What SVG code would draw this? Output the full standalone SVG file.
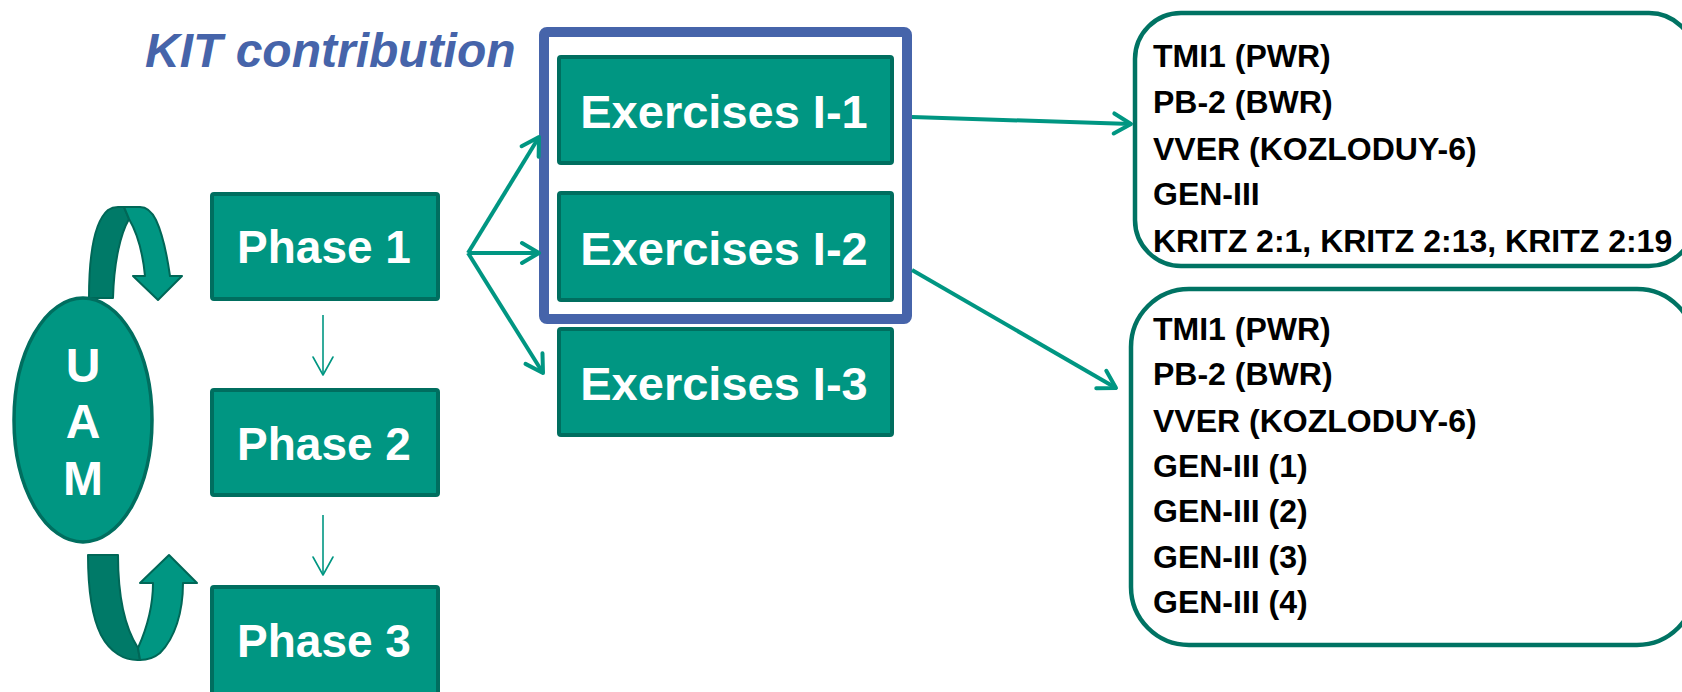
<svg xmlns="http://www.w3.org/2000/svg" width="1682" height="692" viewBox="0 0 1682 692">
<style>
.box{fill:#009682;stroke:#006E5F;stroke-width:4;}
.wt{font-family:"Liberation Sans",Arial,sans-serif;font-weight:bold;fill:#ffffff;text-anchor:middle;}
.lst{font-family:"Liberation Sans",Arial,sans-serif;font-weight:bold;font-size:32px;fill:#000000;}
.rbox{fill:#ffffff;stroke:#007363;stroke-width:4.5;}
.conn{fill:none;stroke:#009682;stroke-width:4;}
.thin{fill:none;stroke:#009682;stroke-width:1.6;}
.dark{fill:#007A68;stroke:#006757;stroke-width:2;stroke-linejoin:round;}
.light{fill:#009682;stroke:#006757;stroke-width:2;stroke-linejoin:round;}
</style>
<defs>
<marker id="ah" markerUnits="userSpaceOnUse" markerWidth="40" markerHeight="40" viewBox="-25 -20 40 40" refX="0" refY="0" orient="auto">
<path d="M-17,-10 L0,0 L-17,10" fill="none" stroke="#009682" stroke-width="4" stroke-linecap="round" stroke-linejoin="round"/>
</marker>
<marker id="ahs" markerUnits="userSpaceOnUse" markerWidth="30" markerHeight="30" viewBox="-20 -15 30 30" refX="0" refY="0" orient="auto">
<path d="M-18,-10 L0,0 L-18,10" fill="none" stroke="#009682" stroke-width="1.6" stroke-linecap="round" stroke-linejoin="round"/>
</marker>
</defs>

<g id="kit-label">
<text x="145" y="67" font-family="'Liberation Sans',Arial,sans-serif" font-weight="bold" font-style="italic" font-size="48" fill="#4664AA">KIT contribution</text>
</g>

<g id="kit-frame">
<rect x="544" y="32" width="363" height="287" rx="3" fill="none" stroke="#4664AA" stroke-width="10"/>
</g>

<g id="loop-top">
<path class="dark" d="M89,298 C89,255 94,222 108,210 C111,208 114,207 118,207 L124,207 L129,219 C121,233 114,260 113,298 Z"/>
<path class="light" d="M124,207 L140,207 C146,207 152,212 156,220 C163,235 167,255 170,276 L182,276 L158,300 L133,276 L145,276 C143,255 139,236 129,219 Z"/>
</g>
<g id="loop-bottom">
<path class="dark" d="M88,555 L118,555 C118,598 125,628 138,648 L140,660 C124,661 110,652 101,635 C92,617 88,590 88,555 Z"/>
<path class="light" d="M138,648 C147,628 153,605 153,583 L140,583 L169,555 L197,583 L183,583 C183,612 175,638 160,653 C154,658 147,660 140,660 Z"/>
</g>

<g id="uam">
<ellipse cx="83" cy="420" rx="69" ry="122" fill="#009682" stroke="#006E5F" stroke-width="3.5"/>
<text class="wt" x="83" y="382" font-size="48">U</text>
<text class="wt" x="83" y="438" font-size="48">A</text>
<text class="wt" x="83" y="495" font-size="48">M</text>
</g>

<g id="phase1">
<rect class="box" x="212" y="194" width="226" height="105" rx="2"/>
<text class="wt" x="324" y="263" font-size="46">Phase 1</text>
</g>
<g id="phase2">
<rect class="box" x="212" y="390" width="226" height="105" rx="2"/>
<text class="wt" x="324" y="460" font-size="46">Phase 2</text>
</g>
<g id="phase3">
<rect class="box" x="212" y="587" width="226" height="112" rx="2"/>
<text class="wt" x="324" y="657" font-size="46">Phase 3</text>
</g>

<g id="ex1">
<rect class="box" x="559" y="57" width="333" height="106" rx="2"/>
<text class="wt" x="724" y="128" font-size="47">Exercises I-1</text>
</g>
<g id="ex2">
<rect class="box" x="559" y="193" width="333" height="107" rx="2"/>
<text class="wt" x="724" y="265" font-size="47">Exercises I-2</text>
</g>
<g id="ex3">
<rect class="box" x="559" y="329" width="333" height="106" rx="2"/>
<text class="wt" x="724" y="400" font-size="47">Exercises I-3</text>
</g>

<g id="list1">
<rect class="rbox" x="1135" y="13" width="560" height="253" rx="46"/>
<text class="lst" x="1153" y="67">TMI1 (PWR)</text>
<text class="lst" x="1153" y="113">PB-2 (BWR)</text>
<text class="lst" x="1153" y="160">VVER (KOZLODUY-6)</text>
<text class="lst" x="1153" y="205">GEN-III</text>
<text class="lst" x="1153" y="252">KRITZ 2:1, KRITZ 2:13, KRITZ 2:19</text>
</g>
<g id="list2">
<rect class="rbox" x="1131" y="289" width="564" height="356" rx="58"/>
<text class="lst" x="1153" y="340">TMI1 (PWR)</text>
<text class="lst" x="1153" y="385">PB-2 (BWR)</text>
<text class="lst" x="1153" y="432">VVER (KOZLODUY-6)</text>
<text class="lst" x="1153" y="477">GEN-III (1)</text>
<text class="lst" x="1153" y="522">GEN-III (2)</text>
<text class="lst" x="1153" y="568">GEN-III (3)</text>
<text class="lst" x="1153" y="613">GEN-III (4)</text>
</g>

<g id="connectors">
<line class="thin" x1="323" y1="315" x2="323" y2="375" marker-end="url(#ahs)"/>
<line class="thin" x1="323" y1="515" x2="323" y2="575" marker-end="url(#ahs)"/>
<line class="conn" x1="468" y1="253" x2="539" y2="137" marker-end="url(#ah)"/>
<line class="conn" x1="468" y1="253" x2="539" y2="253" marker-end="url(#ah)"/>
<line class="conn" x1="468" y1="253" x2="543" y2="373" marker-end="url(#ah)"/>
<line class="conn" x1="912" y1="117" x2="1131" y2="124" marker-end="url(#ah)"/>
<line class="conn" x1="912" y1="270" x2="1116" y2="388" marker-end="url(#ah)"/>
</g>
</svg>
